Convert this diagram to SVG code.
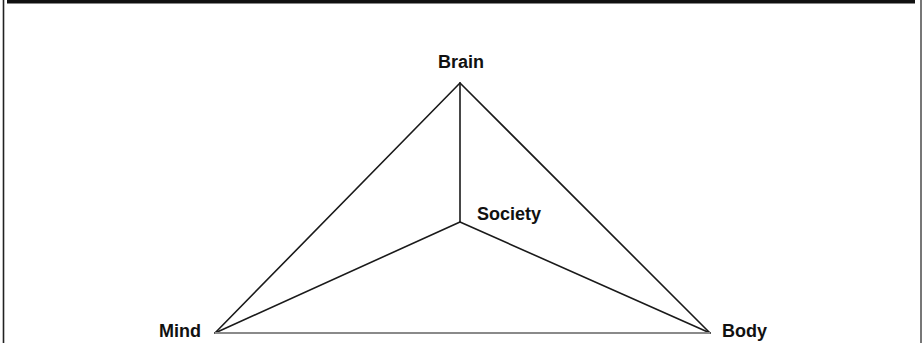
<svg xmlns="http://www.w3.org/2000/svg" width="922" height="343" viewBox="0 0 922 343">
<style>
.lbl{font-family:"Liberation Sans",Arial,Helvetica,sans-serif;font-weight:bold;font-size:18px;fill:#111}
.edge{stroke:#1a1a1a;stroke-width:1.6;fill:none;stroke-linecap:round}
</style>
<rect width="922" height="343" fill="#fff"/>
<g id="frame">
<rect x="7" y="0" width="908" height="3.5" fill="#111"/>
<line x1="3.5" y1="0" x2="3.5" y2="343" stroke="#222" stroke-width="1.6"/>
<line x1="921" y1="0" x2="921" y2="343" stroke="#555" stroke-width="1.6"/>
</g>
<g id="connectors">
<line class="edge" x1="460" y1="83" x2="215" y2="333"/>
<line class="edge" x1="460" y1="83" x2="710" y2="333"/>
<line class="edge" x1="460" y1="83" x2="460" y2="222"/>
<line class="edge" x1="460" y1="222" x2="215" y2="333"/>
<line class="edge" x1="460" y1="222" x2="710" y2="333"/>
<line x1="215" y1="333" x2="710" y2="333" stroke="#8a8a8a" stroke-width="2"/>
</g>
<g id="brain"><text class="lbl" x="461" y="68" text-anchor="middle">Brain</text></g>
<g id="society"><text class="lbl" x="477" y="220">Society</text></g>
<g id="mind"><text class="lbl" x="159" y="337">Mind</text></g>
<g id="body"><text class="lbl" x="722" y="337">Body</text></g>
</svg>
